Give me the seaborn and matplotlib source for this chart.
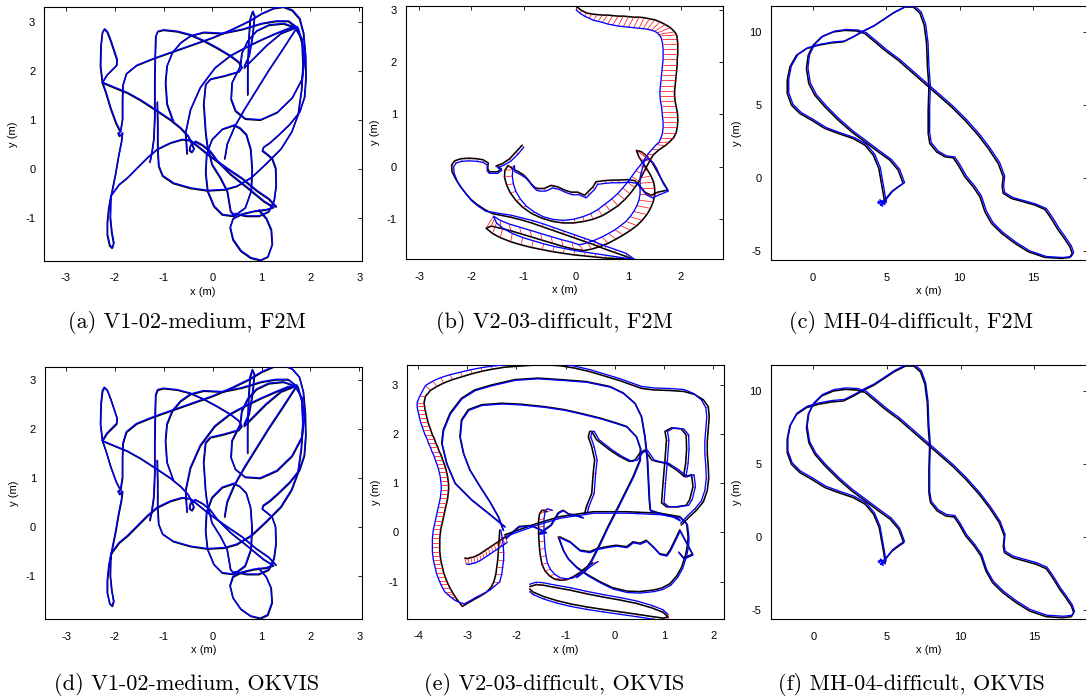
import numpy as np
import pandas as pd
import matplotlib
matplotlib.use("Agg")
import matplotlib.pyplot as plt
import seaborn as sns
from matplotlib.collections import LineCollection

# ---------------------------------------------------------------------------
# V1-02-medium ground-truth trajectory (m), split into strokes
# ---------------------------------------------------------------------------
v1_flag_diag = [(-2.25, 1.75), (-2.29, 2.09), (-2.28, 2.50), (-2.25, 2.77), (-2.21, 2.84), (-2.15, 2.78),
                (-2.08, 2.60), (-2.00, 2.36), (-1.95, 2.21), (-1.96, 2.10), (-2.05, 2.01), (-2.16, 1.90),
                (-2.25, 1.75), (-2.01, 1.65), (-1.74, 1.54), (-1.47, 1.39), (-1.13, 1.17), (-0.86, 0.99),
                (-0.65, 0.82), (-0.50, 0.66), (-0.42, 0.50), (-0.38, 0.40), (-0.42, 0.33), (-0.47, 0.37),
                (-0.45, 0.47), (-0.35, 0.55), (-0.20, 0.47), (-0.05, 0.35), (0.10, 0.15), (0.37, -0.12),
                (0.71, -0.39), (1.05, -0.67), (1.25, -0.79), (1.10, -0.84), (0.85, -0.87), (0.60, -0.93),
                (0.42, -1.02), (0.36, -1.20), (0.42, -1.45), (0.58, -1.68), (0.78, -1.82), (0.98, -1.87),
                (1.13, -1.80), (1.22, -1.55), (1.20, -1.25), (1.10, -1.02), (0.95, -0.85)]
v1_flag_drop = [(-2.25, 1.75), (-2.18, 1.55), (-2.08, 1.22), (-1.97, 0.92), (-1.90, 0.78)]
v1_hook_arch = [(-1.88, 0.75), (-1.93, 0.72), (-1.90, 0.66), (-1.84, 0.72), (-1.86, 0.55), (-1.92, 0.25),
                (-1.98, -0.10), (-2.05, -0.45), (-2.12, -0.80), (-2.15, -1.10), (-2.15, -1.35), (-2.10, -1.57),
                (-2.05, -1.62), (-2.02, -1.52), (-2.06, -1.30), (-2.09, -1.00), (-2.08, -0.56), (-1.91, -0.33),
                (-1.74, -0.19), (-1.54, 0.01), (-1.33, 0.22), (-1.13, 0.39), (-0.86, 0.52), (-0.62, 0.59),
                (-0.45, 0.57), (-0.30, 0.45), (-0.05, 0.25), (0.30, 0.00), (0.60, -0.20), (0.90, -0.45),
                (1.15, -0.62), (1.30, -0.78)]
v1_top_sweep = [(-1.88, 0.75), (-1.84, 1.00), (-1.84, 1.40), (-1.83, 1.70), (-1.76, 1.93), (-1.55, 2.10),
                (-1.20, 2.24), (-0.80, 2.38), (-0.40, 2.52), (0.00, 2.66), (0.40, 2.83), (0.75, 3.00),
                (1.00, 3.15), (1.25, 3.26), (1.45, 3.29), (1.63, 3.22), (1.78, 3.05), (1.86, 2.75),
                (1.90, 2.30), (1.91, 1.85), (1.88, 1.45), (1.78, 1.15), (1.58, 0.90), (1.35, 0.68),
                (1.17, 0.52), (1.04, 0.43), (1.02, 0.36), (1.10, 0.30), (1.22, 0.20), (1.29, 0.00),
                (1.30, -0.35), (1.26, -0.65), (1.15, -0.88), (0.95, -0.97), (0.70, -0.97), (0.45, -0.92)]
v1_left_post = [(-1.28, 0.13), (-1.24, 0.32), (-1.20, 0.60), (-1.18, 1.07), (-1.18, 1.75), (-1.17, 2.35),
                (-1.16, 2.69), (-1.12, 2.79), (-1.00, 2.82), (-0.72, 2.79), (-0.45, 2.72), (-0.18, 2.60),
                (0.10, 2.45), (0.37, 2.29), (0.54, 2.16), (0.60, 2.05), (0.54, 1.97), (0.23, 1.88),
                (-0.04, 1.82), (-0.14, 1.71), (-0.18, 1.31), (-0.14, 0.73), (-0.11, 0.49), (-0.01, 0.08),
                (0.16, -0.19), (0.30, -0.46), (0.37, -0.87), (0.45, -0.97)]
v1_round = [(-1.13, 1.35), (-1.12, 0.90), (-1.12, 0.40), (-1.10, 0.05), (-1.02, -0.15), (-0.80, -0.30),
            (-0.45, -0.40), (-0.10, -0.45), (0.25, -0.43), (0.50, -0.36), (0.80, -0.18), (1.10, 0.10),
            (1.40, 0.40), (1.62, 0.75), (1.75, 1.10), (1.82, 1.60), (1.85, 2.10), (1.83, 2.55),
            (1.75, 2.85), (1.55, 3.00), (1.30, 3.00), (1.00, 2.95), (0.60, 2.83), (0.20, 2.75),
            (-0.18, 2.77), (-0.45, 2.70), (-0.65, 2.56), (-0.82, 2.36), (-0.93, 2.09), (-0.96, 1.75),
            (-0.93, 1.31), (-0.80, 0.95)]
v1_dome = [(-0.52, 0.30), (-0.55, 0.73), (-0.45, 1.20), (-0.25, 1.65), (0.05, 2.05), (0.37, 2.30),
           (0.71, 2.48), (1.00, 2.62), (1.30, 2.75), (1.55, 2.85), (1.73, 2.88), (1.45, 2.45),
           (1.15, 2.00), (0.90, 1.60), (0.65, 1.20), (0.45, 0.85), (0.30, 0.50), (0.25, 0.20)]
v1_right_loop = [(0.57, 2.09), (0.40, 1.75), (0.38, 1.41), (0.47, 1.17), (0.67, 1.01), (0.98, 0.99),
                 (1.32, 1.14), (1.63, 1.44), (1.83, 1.82), (1.88, 2.22), (1.83, 2.63), (1.69, 2.87),
                 (1.45, 2.95), (1.15, 2.92), (0.90, 2.80), (0.72, 2.60), (0.60, 2.35), (0.57, 2.09)]
v1_mid_loop = [(0.44, 0.88), (0.20, 0.80), (-0.01, 0.59), (-0.12, 0.29), (-0.14, -0.09), (-0.10, -0.46),
               (0.03, -0.77), (0.20, -0.94), (0.44, -0.97), (0.67, -0.80), (0.79, -0.46), (0.81, -0.02),
               (0.78, 0.39), (0.69, 0.69), (0.56, 0.82), (0.44, 0.88)]
v1_spike = [(0.72, 1.50), (0.72, 2.00), (0.74, 2.60), (0.77, 3.05), (0.82, 3.20), (0.86, 3.10),
            (0.82, 2.70), (0.75, 2.30), (0.65, 2.08)]
v1_link = [(0.65, 2.05), (0.85, 2.25), (1.10, 2.50), (1.40, 2.75), (1.73, 2.88)]

# estimate drift relative to ground truth for V1-02 (m)
v1_shift_f2m = (0.008, 0.014)
v1_shift_okvis = (-0.008, 0.014)

# ---------------------------------------------------------------------------
# MH-04-difficult ground-truth trajectory (m)
# ---------------------------------------------------------------------------
mh_track = [(4.89, -1.76), (4.78, -1.07), (4.66, -0.39), (4.48, 0.64), (4.10, 1.55), (3.53, 2.24),
            (2.73, 2.69), (1.71, 3.04), (0.80, 3.38), (-0.11, 3.95), (-0.91, 4.41), (-1.48, 4.98),
            (-1.77, 5.78), (-1.77, 6.69), (-1.59, 7.60), (-1.14, 8.40), (-0.46, 8.86), (0.34, 9.09),
            (1.25, 9.25), (2.05, 9.32), (2.73, 9.66), (3.41, 10.05), (4.10, 10.39), (4.78, 10.84),
            (5.46, 11.30), (6.26, 11.71), (6.83, 11.71), (7.28, 11.30), (7.58, 10.46), (7.74, 9.20),
            (7.80, 7.60), (7.90, 6.23), (7.85, 4.63), (7.85, 3.04), (7.96, 2.35), (8.42, 1.78),
            (8.99, 1.44), (9.56, 1.37), (9.90, 0.87), (10.35, 0.07), (10.92, -0.62), (11.38, -1.30),
            (11.72, -2.33), (12.17, -3.13), (12.86, -3.81), (13.77, -4.50), (14.68, -5.07), (15.81, -5.46),
            (16.95, -5.53), (17.52, -5.46), (17.68, -5.18), (17.52, -4.73), (17.06, -4.04), (16.72, -3.58),
            (16.38, -3.01), (16.09, -2.56), (15.81, -2.17), (15.13, -1.87), (14.33, -1.64), (13.54, -1.42),
            (12.97, -1.07), (12.90, -0.62), (12.97, 0.07), (12.63, 0.98), (11.95, 2.01), (11.26, 2.92),
            (10.35, 3.95), (9.44, 4.86), (8.53, 5.66), (7.62, 6.46), (6.71, 7.26), (5.80, 8.06),
            (4.89, 8.74), (4.21, 9.32), (3.53, 9.89), (2.96, 10.07), (2.16, 10.11), (1.37, 10.00),
            (0.57, 9.66), (0.00, 9.09), (-0.34, 8.40), (-0.46, 7.49), (-0.30, 6.46), (0.11, 5.66),
            (0.80, 4.86), (1.71, 3.95), (2.62, 3.15), (3.53, 2.47), (4.44, 1.78), (5.23, 1.21),
            (5.80, 0.53), (6.14, -0.39), (5.80, -0.62), (5.35, -0.96), (4.89, -1.53), (4.78, -1.76)]
# jitter of the estimate while the platform is still at the start
mh_start_est = [(4.45, -1.60), (4.90, -1.85), (4.55, -1.50), (4.75, -1.95), (4.40, -1.70),
                (4.85, -1.55), (4.60, -1.90), (4.70, -1.65)]
mh_shift_f2m = (0.10, 0.06)
mh_shift_okvis = (0.05, 0.10)

# ---------------------------------------------------------------------------
# V2-03-difficult, F2M: ground truth and estimate (m), sample by sample
# ---------------------------------------------------------------------------
b_top_gt = [(0.00, 3.07), (0.10, 2.99), (0.20, 2.94), (0.30, 2.92), (0.40, 2.91), (0.50, 2.90), (0.60, 2.90),
            (0.70, 2.89), (0.80, 2.88), (0.90, 2.88), (1.00, 2.87), (1.10, 2.86), (1.20, 2.86), (1.30, 2.85),
            (1.40, 2.83), (1.50, 2.81), (1.60, 2.77), (1.70, 2.72), (1.80, 2.66), (1.88, 2.58), (1.92, 2.52)]
b_top_est = [(0.00, 3.00), (0.08, 2.93), (0.16, 2.88), (0.25, 2.84), (0.33, 2.80), (0.42, 2.78), (0.50, 2.76),
             (0.60, 2.73), (0.70, 2.71), (0.80, 2.69), (0.90, 2.68), (1.00, 2.67), (1.10, 2.66), (1.20, 2.65),
             (1.28, 2.64), (1.36, 2.63), (1.44, 2.61), (1.50, 2.59), (1.55, 2.56), (1.58, 2.53), (1.60, 2.50)]
b_right_gt = [(1.93, 2.45), (1.94, 2.35), (1.94, 2.25), (1.94, 2.15), (1.93, 2.05), (1.93, 1.95), (1.92, 1.85),
              (1.91, 1.75), (1.90, 1.65), (1.89, 1.55), (1.88, 1.45), (1.88, 1.35), (1.89, 1.25), (1.91, 1.15),
              (1.93, 1.05), (1.94, 0.95), (1.94, 0.85), (1.93, 0.75), (1.91, 0.65), (1.86, 0.55), (1.78, 0.47)]
b_right_est = [(1.63, 2.45), (1.65, 2.35), (1.66, 2.25), (1.66, 2.15), (1.66, 2.05), (1.65, 1.95), (1.64, 1.85),
               (1.63, 1.75), (1.62, 1.65), (1.61, 1.55), (1.60, 1.45), (1.60, 1.35), (1.61, 1.25), (1.63, 1.15),
               (1.64, 1.05), (1.65, 0.95), (1.66, 0.85), (1.66, 0.75), (1.65, 0.65), (1.62, 0.55), (1.58, 0.46)]
b_inner_gt = [(1.70, 0.40), (1.58, 0.32), (1.47, 0.22), (1.40, 0.10), (1.33, -0.03), (1.27, -0.15), (1.20, -0.28),
              (1.12, -0.40), (1.03, -0.52), (0.93, -0.63), (0.80, -0.75), (0.65, -0.85), (0.50, -0.94),
              (0.32, -1.01), (0.15, -1.05), (-0.05, -1.08), (-0.25, -1.08), (-0.45, -1.05), (-0.65, -0.99),
              (-0.85, -0.90), (-1.02, -0.78), (-1.15, -0.65), (-1.26, -0.50), (-1.33, -0.35), (-1.37, -0.20),
              (-1.36, -0.07), (-1.30, 0.02)]
b_inner_est = [(1.53, 0.42), (1.45, 0.33), (1.37, 0.24), (1.30, 0.13), (1.22, 0.02), (1.14, -0.08), (1.06, -0.19),
               (0.98, -0.30), (0.89, -0.41), (0.79, -0.52), (0.68, -0.62), (0.55, -0.72), (0.42, -0.82),
               (0.28, -0.90), (0.13, -0.96), (-0.05, -1.01), (-0.25, -1.03), (-0.45, -1.01), (-0.63, -0.96),
               (-0.80, -0.87), (-0.95, -0.76), (-1.06, -0.63), (-1.15, -0.48), (-1.20, -0.33), (-1.22, -0.18),
               (-1.21, -0.06), (-1.18, 0.02)]
b_wavy_gt = [(-1.20, -0.05), (-1.10, -0.10), (-0.99, -0.17), (-0.92, -0.25), (-0.86, -0.33), (-0.79, -0.40),
             (-0.73, -0.42), (-0.61, -0.42), (-0.48, -0.36), (-0.35, -0.39), (-0.22, -0.45), (-0.10, -0.49),
             (0.03, -0.49), (0.16, -0.55), (0.22, -0.49), (0.32, -0.39), (0.38, -0.29), (0.54, -0.27),
             (0.67, -0.26), (0.80, -0.26), (0.99, -0.25), (1.12, -0.27), (1.21, -0.36), (1.31, -0.49),
             (1.43, -0.55), (1.56, -0.49), (1.75, -0.45)]
b_wavy_est = [(-1.17, -0.10), (-1.07, -0.15), (-0.96, -0.22), (-0.89, -0.30), (-0.83, -0.38), (-0.76, -0.45),
              (-0.70, -0.47), (-0.58, -0.47), (-0.45, -0.41), (-0.32, -0.44), (-0.19, -0.50), (-0.07, -0.54),
              (0.06, -0.54), (0.19, -0.60), (0.25, -0.54), (0.35, -0.44), (0.41, -0.34), (0.57, -0.32),
              (0.70, -0.31), (0.83, -0.31), (1.02, -0.30), (1.15, -0.32), (1.24, -0.41), (1.34, -0.54),
              (1.46, -0.60), (1.59, -0.54), (1.76, -0.47)]
b_zig_gt = [(1.65, -0.28), (1.55, -0.10), (1.45, 0.08), (1.35, 0.20), (1.25, 0.28), (1.15, 0.31)]
b_zig_est = [(1.66, -0.32), (1.60, -0.18), (1.54, -0.04), (1.48, 0.06), (1.42, 0.12), (1.36, 0.15)]
b_arc_gt = [(1.20, 0.18), (1.28, 0.06), (1.36, -0.06), (1.43, -0.18), (1.48, -0.30), (1.50, -0.42), (1.50, -0.55),
            (1.47, -0.68), (1.42, -0.80), (1.35, -0.92), (1.26, -1.03), (1.16, -1.13), (1.04, -1.22),
            (0.90, -1.31), (0.76, -1.39), (0.61, -1.47), (0.46, -1.53), (0.30, -1.58), (0.14, -1.61)]
b_arc_est = [(1.30, 0.10), (1.27, -0.02), (1.24, -0.12), (1.22, -0.22), (1.22, -0.32), (1.22, -0.42), (1.22, -0.53),
             (1.20, -0.64), (1.16, -0.75), (1.10, -0.86), (1.03, -0.96), (0.95, -1.05), (0.85, -1.13),
             (0.74, -1.21), (0.62, -1.28), (0.49, -1.35), (0.35, -1.41), (0.21, -1.46), (0.06, -1.50)]
b_lens1_gt = [(-0.05, -1.58), (-0.25, -1.53), (-0.45, -1.47), (-0.65, -1.41), (-0.85, -1.35), (-1.05, -1.29),
              (-1.25, -1.23), (-1.45, -1.18), (-1.62, -1.14), (-1.72, -1.18)]
b_lens1_est = [(-0.08, -1.45), (-0.28, -1.40), (-0.48, -1.34), (-0.68, -1.28), (-0.88, -1.22), (-1.08, -1.16),
               (-1.28, -1.10), (-1.45, -1.03), (-1.55, -0.97), (-1.58, -0.95)]
b_lens2_gt = [(-1.60, -1.28), (-1.45, -1.36), (-1.25, -1.44), (-1.05, -1.50), (-0.85, -1.55), (-0.65, -1.59),
              (-0.45, -1.63), (-0.25, -1.66), (-0.05, -1.69), (0.15, -1.71), (0.35, -1.73), (0.55, -1.75),
              (0.75, -1.76), (0.95, -1.77), (1.08, -1.77)]
b_lens2_est = [(-1.52, -1.08), (-1.40, -1.18), (-1.22, -1.28), (-1.02, -1.36), (-0.82, -1.42), (-0.62, -1.48),
               (-0.42, -1.53), (-0.22, -1.57), (-0.02, -1.61), (0.18, -1.64), (0.38, -1.67), (0.58, -1.70),
               (0.78, -1.73), (0.98, -1.76), (1.12, -1.78)]
b_lens3_gt = [(0.95, -1.72), (0.75, -1.65), (0.55, -1.58), (0.35, -1.50), (0.15, -1.43), (-0.05, -1.36),
              (-0.25, -1.29), (-0.45, -1.22), (-0.65, -1.15), (-0.85, -1.08), (-1.05, -1.02), (-1.25, -0.97),
              (-1.45, -0.93), (-1.60, -0.90)]
b_lens3_est = [(0.95, -1.66), (0.75, -1.59), (0.55, -1.52), (0.35, -1.44), (0.15, -1.37), (-0.05, -1.30),
               (-0.25, -1.23), (-0.45, -1.16), (-0.65, -1.09), (-0.85, -1.03), (-1.05, -0.98), (-1.25, -0.93),
               (-1.45, -0.90), (-1.62, -0.87)]
b_left_gt = [(-1.75, -0.82), (-1.90, -0.72), (-2.02, -0.62), (-2.12, -0.50), (-2.22, -0.37), (-2.30, -0.24),
             (-2.37, -0.10), (-2.38, 0.03), (-2.32, 0.11), (-2.20, 0.15), (-2.05, 0.16), (-1.90, 0.15),
             (-1.78, 0.13), (-1.68, 0.07), (-1.69, -0.04), (-1.66, -0.10), (-1.50, -0.10), (-1.43, -0.04),
             (-1.53, 0.01), (-1.40, 0.06), (-1.27, 0.15), (-1.15, 0.28), (-1.03, 0.41)]
b_left_est = [(-1.72, -0.86), (-1.87, -0.76), (-1.99, -0.66), (-2.09, -0.54), (-2.19, -0.41), (-2.27, -0.28),
              (-2.33, -0.13), (-2.34, 0.00), (-2.29, 0.07), (-2.18, 0.10), (-2.04, 0.11), (-1.90, 0.10),
              (-1.78, 0.08), (-1.70, 0.03), (-1.70, -0.08), (-1.66, -0.13), (-1.50, -0.13), (-1.42, -0.07),
              (-1.50, -0.02), (-1.37, 0.03), (-1.24, 0.11), (-1.11, 0.24), (-1.00, 0.37)]

# ---------------------------------------------------------------------------
# V2-03-difficult, OKVIS: ground truth strokes (m)
# ---------------------------------------------------------------------------
e_start = [(-3.05, -0.52), (-2.99, -0.53), (-2.93, -0.51), (-2.87, -0.50), (-2.81, -0.47), (-2.75, -0.44),
           (-2.69, -0.40), (-2.63, -0.36), (-2.57, -0.32), (-2.51, -0.28), (-2.45, -0.24), (-2.39, -0.20),
           (-2.33, -0.16), (-2.27, -0.12), (-2.22, -0.08)]
e_loop_a = [(-2.34, 0.05), (-2.35, -0.10), (-2.36, -0.25), (-2.37, -0.40), (-2.38, -0.55), (-2.40, -0.70),
            (-2.42, -0.85), (-2.46, -1.00), (-2.52, -1.12), (-2.62, -1.22), (-2.75, -1.30), (-2.88, -1.37),
            (-3.00, -1.44), (-3.10, -1.50),
            (-3.14, -1.45), (-3.18, -1.40), (-3.23, -1.33), (-3.27, -1.27), (-3.31, -1.20), (-3.35, -1.13),
            (-3.39, -1.05), (-3.42, -0.98), (-3.45, -0.90), (-3.48, -0.82), (-3.50, -0.73), (-3.52, -0.65),
            (-3.54, -0.56), (-3.55, -0.48), (-3.56, -0.39), (-3.56, -0.30), (-3.56, -0.21), (-3.56, -0.12),
            (-3.55, -0.03), (-3.54, 0.06), (-3.52, 0.15), (-3.50, 0.24), (-3.48, 0.33), (-3.46, 0.42),
            (-3.44, 0.51), (-3.42, 0.60), (-3.40, 0.69), (-3.39, 0.78), (-3.38, 0.87), (-3.38, 0.96),
            (-3.39, 1.05), (-3.40, 1.13), (-3.42, 1.22), (-3.44, 1.30), (-3.47, 1.39), (-3.50, 1.47),
            (-3.53, 1.56), (-3.57, 1.64), (-3.60, 1.73), (-3.64, 1.81), (-3.67, 1.90), (-3.71, 1.98),
            (-3.74, 2.07), (-3.77, 2.15), (-3.80, 2.24), (-3.82, 2.32), (-3.84, 2.41), (-3.86, 2.49),
            (-3.87, 2.56), (-3.88, 2.63),
            (-3.85, 2.76), (-3.75, 2.88), (-3.62, 2.96),
            (-3.48, 3.03), (-3.30, 3.10), (-3.10, 3.16), (-2.90, 3.22), (-2.70, 3.27), (-2.50, 3.31),
            (-2.25, 3.35), (-2.00, 3.37), (-1.70, 3.39), (-1.40, 3.40), (-1.10, 3.38), (-0.80, 3.33),
            (-0.50, 3.26), (-0.20, 3.17), (0.10, 3.08), (0.35, 2.99), (0.55, 2.92), (0.80, 2.89),
            (1.10, 2.88), (1.40, 2.86), (1.62, 2.80), (1.80, 2.69), (1.90, 2.55), (1.92, 2.35),
            (1.90, 2.10), (1.88, 1.85), (1.88, 1.60), (1.90, 1.35), (1.91, 1.10), (1.88, 0.85),
            (1.80, 0.62), (1.66, 0.45), (1.50, 0.30), (1.35, 0.15)]
e_loop_a_err_x = ([0.02, 0.06, 0.09, 0.11, 0.12, 0.12, 0.12, 0.12, 0.10, 0.08, 0.06, 0.05, 0.05, 0.04] +
                  [-0.04, -0.08, -0.11, -0.13] + [-0.15] * 45 + [-0.14] +
                  [-0.12, -0.10, -0.08, -0.06, -0.05, -0.04, -0.03, -0.02, -0.02, -0.01, 0.0] + [0.0] * 12 +
                  [-0.02, -0.04, -0.05] + [-0.05] * 7 + [-0.04, -0.03, -0.02, -0.01])
e_loop_a_err_y = ([0.0] * 8 + [0.05] * 6 + [0.04, 0.03, 0.02, 0.01] + [0.0] * 46 +
                  [0.0, 0.10, 0.11, 0.11, 0.10, 0.09, 0.08, 0.07, 0.06, 0.05, 0.05] + [0.04] * 12 +
                  [0.02, 0.0, -0.02] + [0.0] * 7 + [0.02, 0.03, 0.04, 0.04])
e_loop_b = [(-2.24, 0.12), (-2.57, 0.39), (-2.91, 0.66), (-3.25, 1.00), (-3.42, 1.40), (-3.52, 1.81),
            (-3.49, 2.08), (-3.35, 2.42), (-3.12, 2.72), (-2.85, 2.89), (-2.51, 2.99), (-2.03, 3.10),
            (-1.56, 3.13), (-1.10, 3.10), (-0.58, 3.06), (-0.10, 2.96), (0.17, 2.83), (0.41, 2.62),
            (0.54, 2.35), (0.61, 1.94), (0.66, 1.47), (0.68, 1.06), (0.70, 0.66), (0.72, 0.45),
            (0.91, 0.39), (1.19, 0.32), (1.32, 0.25)]
e_loop_c = [(-2.27, 0.05), (-2.37, 0.32), (-2.54, 0.62), (-2.74, 0.93), (-2.95, 1.27), (-3.08, 1.61),
            (-3.15, 1.94), (-3.12, 2.28), (-2.98, 2.49), (-2.71, 2.59), (-2.30, 2.62), (-1.90, 2.60),
            (-1.42, 2.55), (-1.02, 2.49), (-0.71, 2.42), (-0.30, 2.32), (0.03, 2.22), (0.24, 2.15),
            (0.44, 1.94), (0.52, 1.70), (0.51, 1.47), (0.37, 1.13), (0.20, 0.79), (0.03, 0.45),
            (-0.14, 0.12), (-0.30, -0.22), (-0.47, -0.56), (-0.61, -0.77), (-0.78, -0.90)]
e_ellipse = [(-2.24, -0.05), (-1.59, 0.18), (-1.12, 0.32), (-0.44, 0.42), (0.24, 0.42), (0.91, 0.39),
             (1.32, 0.32), (1.46, 0.18), (1.49, -0.09), (1.48, -0.25), (1.44, -0.45), (1.36, -0.70),
             (1.26, -0.88), (1.12, -1.04), (0.95, -1.13), (0.78, -1.17), (0.50, -1.20), (0.24, -1.19),
             (-0.05, -1.12), (-0.30, -1.00), (-0.55, -0.86), (-0.78, -0.70), (-0.95, -0.53), (-1.05, -0.36),
             (-1.15, -0.09)]
e_wavy = [(-1.12, -0.09), (-0.91, -0.19), (-0.71, -0.36), (-0.51, -0.39), (-0.37, -0.33), (-0.17, -0.29),
          (0.03, -0.26), (0.24, -0.29), (0.37, -0.19), (0.51, -0.22), (0.64, -0.16), (0.78, -0.29),
          (0.91, -0.43), (1.05, -0.46), (1.12, -0.36), (1.22, -0.16), (1.32, 0.05), (1.58, -0.44),
          (1.40, -0.52), (1.30, -0.40)]
e_ubend = [(-1.38, 0.42), (-1.48, 0.45), (-1.53, 0.38), (-1.55, 0.25), (-1.55, 0.10), (-1.55, -0.05),
           (-1.54, -0.20), (-1.53, -0.35), (-1.51, -0.50), (-1.48, -0.65), (-1.42, -0.78), (-1.33, -0.88),
           (-1.22, -0.95), (-1.10, -0.97), (-0.98, -0.96), (-0.85, -0.90), (-0.72, -0.82), (-0.60, -0.72),
           (-0.45, -0.62)]
e_lens_top = [(-1.73, -1.10), (-1.60, -1.06), (-1.46, -1.07), (-1.20, -1.12), (-0.91, -1.17), (-0.60, -1.24),
              (-0.24, -1.31), (0.10, -1.37), (0.44, -1.44), (0.75, -1.53), (0.98, -1.62), (1.08, -1.71)]
e_lens_bottom = [(1.08, -1.71), (1.00, -1.74), (0.78, -1.71), (0.45, -1.66), (0.10, -1.61), (-0.25, -1.56),
                 (-0.58, -1.51), (-0.90, -1.45), (-1.19, -1.38), (-1.45, -1.30), (-1.66, -1.21), (-1.73, -1.15)]
e_polygon = [(-0.61, 0.39), (-0.58, 0.52), (-0.47, 0.79), (-0.44, 1.20), (-0.41, 1.47), (-0.47, 1.74),
             (-0.54, 1.94), (-0.51, 2.05), (-0.47, 2.05), (-0.37, 1.88), (-0.10, 1.67), (0.10, 1.54),
             (0.30, 1.44), (0.41, 1.47), (0.51, 1.61), (0.61, 1.67), (0.75, 1.47), (0.85, 1.44),
             (1.05, 1.40), (1.25, 1.27), (1.42, 1.13), (1.56, 1.17), (1.59, 0.93), (1.52, 0.66),
             (1.45, 0.55), (1.25, 0.52), (1.05, 0.52), (0.95, 0.60), (0.98, 1.00), (1.02, 1.47),
             (1.05, 1.88), (1.02, 2.05), (1.15, 2.12), (1.35, 2.10), (1.45, 1.98), (1.46, 1.70),
             (1.44, 1.40), (1.40, 1.15)]
e_tangle = [(-2.22, -0.12), (-1.95, 0.12), (-1.70, 0.14), (-1.50, 0.05), (-1.40, 0.00), (-1.55, -0.03),
            (-1.30, 0.15), (-1.15, 0.40), (-1.05, 0.45), (-0.95, 0.38), (-0.80, 0.35), (-0.65, 0.30)]
# estimate offset of each OKVIS stroke (m); None = sample-wise values above
e_stroke_shift = [(0.03, -0.12), None, (0.01, -0.015), (0.01, -0.015), (0.02, -0.03), (0.01, -0.02),
                  (0.11, 0.03), (0.0, 0.05), (0.0, -0.05), (0.05, 0.0), (0.01, -0.01)]

captions = ["(a) V1-02-medium, F2M", "(b) V2-03-difficult, F2M", "(c) MH-04-difficult, F2M",
            "(d) V1-02-medium, OKVIS", "(e) V2-03-difficult, OKVIS", "(f) MH-04-difficult, OKVIS"]

# ---------------------------------------------------------------------------
W, H = 1086, 696
RED, BLUE = "#ff0000", "#0000ff"

sns.set_theme(style="white")
plt.rcParams["font.family"] = ["Liberation Sans", "DejaVu Sans"]
plt.rcParams["axes.unicode_minus"] = False


def stack(strokes):
    xs, ys, seg = [], [], []
    for k, s in enumerate(strokes):
        for px, py in s:
            xs.append(px)
            ys.append(py)
            seg.append(k)
    return np.array(xs), np.array(ys), np.array(seg)


def axes_at(fig, left, top, right, bottom):
    return fig.add_axes([left / W, 1 - bottom / H, (right - left) / W, (bottom - top) / H])


def draw_tracks(ax, gx, gy, gseg, ex, ey, extra=None):
    segs = np.stack([np.column_stack([gx, gy]), np.column_stack([ex, ey])], axis=1)
    ax.add_collection(LineCollection(segs, colors=RED, linewidths=0.5, zorder=2))
    gt = pd.DataFrame({"x": gx, "y": gy, "seg": gseg})
    est = pd.DataFrame({"x": ex, "y": ey, "seg": gseg})
    sns.lineplot(data=gt, x="x", y="y", units="seg", estimator=None, sort=False,
                 color="black", linewidth=1.15, ax=ax, zorder=1,
                 solid_joinstyle="round", solid_capstyle="round")
    sns.lineplot(data=est, x="x", y="y", units="seg", estimator=None, sort=False,
                 color=BLUE, linewidth=0.95, ax=ax, zorder=3,
                 solid_joinstyle="round", solid_capstyle="round")
    if extra is not None:
        xx, yy = zip(*extra)
        sns.lineplot(x=list(xx), y=list(yy), sort=False, estimator=None, color=BLUE,
                     linewidth=0.9, ax=ax, zorder=3)


def style_axes(ax, xlim, ylim, xticks, yticks):
    ax.set_xlim(*xlim)
    ax.set_ylim(*ylim)
    ax.set_xticks(xticks)
    ax.set_yticks(yticks)
    ax.set_xticklabels([str(t) for t in xticks])
    ax.set_yticklabels([str(t) for t in yticks])
    ax.tick_params(direction="in", top=True, right=True, length=3, width=0.6,
                   color="black", labelsize=8, labelcolor="black")
    ax.tick_params(axis="x", pad=9)
    ax.tick_params(axis="y", pad=6.5)
    ax.set_xlabel("x (m)", fontsize=8, labelpad=2.5, color="black")
    ax.set_ylabel("y (m)", fontsize=8, labelpad=5, color="black")
    ax.set_facecolor("white")
    for s in ax.spines.values():
        s.set_visible(True)
        s.set_linewidth(0.8)
        s.set_color("black")


fig = plt.figure(figsize=(W / 100, H / 100), dpi=100)
fig.patch.set_facecolor("white")

# --- V1-02 (a, d)
v1_strokes = [v1_flag_diag, v1_flag_drop, v1_hook_arch, v1_top_sweep, v1_left_post, v1_round, v1_dome,
              v1_right_loop, v1_mid_loop, v1_spike, v1_link]
vx, vy, vseg = stack(v1_strokes)
ax_a = axes_at(fig, 44.3, 7.3, 361.7, 260.7)
draw_tracks(ax_a, vx, vy, vseg, vx + v1_shift_f2m[0], vy + v1_shift_f2m[1])
style_axes(ax_a, (-3.437, 3.05), (-1.87, 3.29), [-3, -2, -1, 0, 1, 2, 3], [-1, 0, 1, 2, 3])

ax_d = axes_at(fig, 45, 366.7, 361.7, 619.3)
draw_tracks(ax_d, vx, vy, vseg, vx + v1_shift_okvis[0], vy + v1_shift_okvis[1])
style_axes(ax_d, (-3.43, 3.05), (-1.88, 3.27), [-3, -2, -1, 0, 1, 2, 3], [-1, 0, 1, 2, 3])

# --- V2-03 F2M (b)
b_gt = (b_top_gt + b_right_gt + b_inner_gt + b_wavy_gt + b_zig_gt + b_arc_gt +
        b_lens1_gt + b_lens2_gt + b_lens3_gt + b_left_gt)
b_est = (b_top_est + b_right_est + b_inner_est + b_wavy_est + b_zig_est + b_arc_est +
         b_lens1_est + b_lens2_est + b_lens3_est + b_left_est)
bgx, bgy, bseg = stack([b_gt])
bex, bey, _ = stack([b_est])
ax_b = axes_at(fig, 406, 5.7, 723.3, 259)
draw_tracks(ax_b, bgx, bgy, bseg, bex, bey)
style_axes(ax_b, (-3.25, 2.81), (-1.77, 3.08), [-3, -2, -1, 0, 1, 2], [-1, 0, 1, 2, 3])

# --- V2-03 OKVIS (e)
e_strokes = [e_start, e_loop_a, e_loop_b, e_loop_c, e_ellipse, e_wavy, e_ubend,
             e_lens_top, e_lens_bottom, e_polygon, e_tangle]
egx, egy, eseg = stack(e_strokes)
e_dx, e_dy = [], []
for k, s in enumerate(e_strokes):
    if e_stroke_shift[k] is None:
        e_dx += list(e_loop_a_err_x)
        e_dy += list(e_loop_a_err_y)
    else:
        e_dx += [e_stroke_shift[k][0]] * len(s)
        e_dy += [e_stroke_shift[k][1]] * len(s)
ax_e = axes_at(fig, 407.3, 365.3, 724, 618.7)
draw_tracks(ax_e, egx, egy, eseg, egx + np.array(e_dx), egy + np.array(e_dy))
style_axes(ax_e, (-4.22, 2.22), (-1.75, 3.39), [-4, -3, -2, -1, 0, 1, 2], [-1, 0, 1, 2, 3])

# --- MH-04 (c, f)
mx, my, mseg = stack([mh_track])
ax_c = axes_at(fig, 770.7, 6, 1087, 260)
draw_tracks(ax_c, mx, my, mseg, mx + mh_shift_f2m[0], my + mh_shift_f2m[1], extra=mh_start_est)
style_axes(ax_c, (-2.9, 18.69), (-5.64, 11.78), [0, 5, 10, 15], [-5, 0, 5, 10])

ax_f = axes_at(fig, 770.7, 365.3, 1087, 619.3)
draw_tracks(ax_f, mx, my, mseg, mx + mh_shift_okvis[0], my + mh_shift_okvis[1], extra=mh_start_est)
style_axes(ax_f, (-2.89, 18.58), (-5.64, 11.76), [0, 5, 10, 15], [-5, 0, 5, 10])

# --- sub-figure captions
cap_x = [186.5, 554, 911, 186.5, 554, 911]
cap_y = [328, 328, 328, 690, 690, 690]
for t, cx, cy in zip(captions, cap_x, cap_y):
    fig.text(cx / W, 1 - cy / H, t, ha="center", va="baseline", fontsize=16,
             family="cmr10", color="black")

fig.savefig("out.png", dpi=100, facecolor="white")
